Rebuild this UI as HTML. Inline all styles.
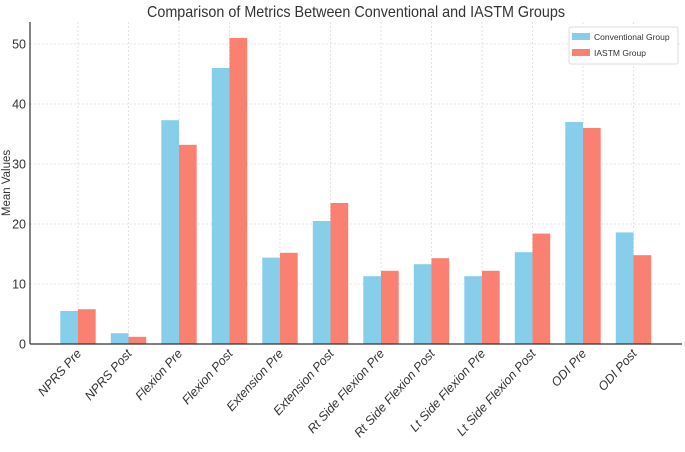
<!DOCTYPE html>
<html><head><meta charset="utf-8"><style>
body{margin:0;background:#fff;}
svg text{font-family:"Liberation Sans",sans-serif;}
</style></head><body>
<svg id="chart" width="685" height="447">
<text x="356" y="17" text-anchor="middle" font-size="16" fill="#333" textLength="418" lengthAdjust="spacingAndGlyphs">Comparison of Metrics Between Conventional and IASTM Groups</text>
<g id="grid"></g><g id="bars"></g><g id="axes"></g>
<text transform="translate(10,183) rotate(-90)" text-anchor="middle" font-size="11.5" fill="#333">Mean Values</text>
<g>
<rect x="569" y="27" width="109" height="37" fill="#fff" stroke="#ddd" rx="2"/>
<rect x="572" y="33" width="18" height="7" fill="#87CEEB"/>
<text x="594" y="40" font-size="8.5" fill="#333">Conventional Group</text>
<rect x="572" y="49" width="18" height="7" fill="#FA8072"/>
<text x="594" y="56" font-size="8.5" fill="#333">IASTM Group</text>
</g>
</svg>
<script>
const categories=["NPRS Pre","NPRS Post","Flexion Pre","Flexion Post","Extension Pre","Extension Post","Rt Side Flexion Pre","Rt Side Flexion Post","Lt Side Flexion Pre","Lt Side Flexion Post","ODI Pre","ODI Post"];
const conventional=[5.5,1.8,37.3,46,14.4,20.5,11.3,13.3,11.3,15.3,37,18.6];
const iastm=[5.8,1.2,33.2,51,15.2,23.5,12.2,14.3,12.2,18.4,36,14.8];
const yTicks=[0,10,20,30,40,50];
const NS="http://www.w3.org/2000/svg";
const x0=78,step=50.5,bw=17.7;
function xPos(i){return x0+i*step;}
function yPos(v){return 344-v*6;}
const grid=document.getElementById('grid'),bars=document.getElementById('bars'),axes=document.getElementById('axes');
function mk(tag,attrs,parent){const e=document.createElementNS(NS,tag);for(const k in attrs)e.setAttribute(k,attrs[k]);parent.appendChild(e);return e;}
yTicks.forEach(t=>{
 const g=mk('line',{x1:30,x2:682,y1:yPos(t),y2:yPos(t),stroke:'#ddd','stroke-dasharray':'2,2','stroke-width':0.8},grid);
 
 
 const tx=mk('text',{x:26,y:yPos(t)+4.5,'text-anchor':'end','font-size':12.5,fill:'#333'},axes);
 tx.textContent=t;
 
 
});
categories.forEach((c,i)=>{
 const gl=mk('line',{x1:xPos(i),x2:xPos(i),y1:22,y2:344,stroke:'#ddd','stroke-dasharray':'2,2','stroke-width':0.8},grid);
 
 
 const b1=mk('rect',{x:xPos(i)-bw,y:yPos(conventional[i]),width:bw,height:344-yPos(conventional[i]),fill:'#87CEEB'},bars);
 
 
 const b2=mk('rect',{x:xPos(i),y:yPos(iastm[i]),width:bw,height:344-yPos(iastm[i]),fill:'#FA8072'},bars);
 
 
 const t=mk('text',{transform:`translate(${xPos(i)+4},354) rotate(-48)`,'text-anchor':'end','font-size':12.5,'font-style':'italic',fill:'#333'},axes);
 t.textContent=c;
 
 
});
const ax=mk('line',{x1:30,x2:682,y1:344,y2:344,stroke:'#333','stroke-width':1.2},axes);


const ay=mk('line',{x1:30,x2:30,y1:22,y2:344,stroke:'#333','stroke-width':1.2},axes);


</script>
</body></html>
